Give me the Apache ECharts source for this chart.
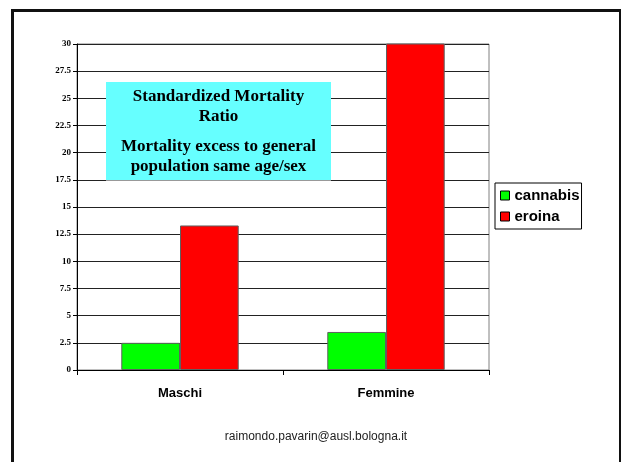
<!DOCTYPE html>
<html>
<head>
<meta charset="utf-8">
<script src="https://cdn.jsdelivr.net/npm/echarts@6/dist/echarts.min.js"></script>
<style>html,body{margin:0;padding:0;background:#fff}#c{width:621px;height:462px}</style>
</head>
<body>
<div id="c"></div>
<script>
var categories = ['Maschi', 'Femmine'];
var cannabis = [2.5, 3.5];
var eroina = [13.3, 30.1];
var seriesNames = ['cannabis', 'eroina'];

var chart = echarts.init(document.getElementById('c'), null, {renderer: 'canvas'});
var serif = 'bold 17px "Liberation Serif", "Times New Roman"';
chart.setOption({
  animation: false,
  backgroundColor: '#fff',
  grid: {left: 77, right: 132, top: 44, bottom: 92, show: true, borderColor: '#808080', borderWidth: 1, backgroundColor: 'transparent'},
  legend: {
    orient: 'vertical', left: 495, top: 183,
    data: seriesNames,
    icon: 'rect', itemWidth: 9, itemHeight: 9, itemGap: 6,
    borderColor: '#000', borderWidth: 1, padding: [5, 2, 5, 5],
    itemStyle: {borderColor: '#000', borderWidth: 1},
    textStyle: {fontFamily: 'Liberation Sans, Arial', fontWeight: 'bold', fontSize: 15, color: '#000'}
  },
  xAxis: {
    type: 'category', data: categories,
    axisLine: {lineStyle: {color: '#000', width: 1}},
    axisTick: {show: true, length: 5, lineStyle: {color: '#000'}},
    axisLabel: {fontFamily: 'Liberation Sans, Arial', fontWeight: 'bold', fontSize: 13, color: '#000', margin: 17}
  },
  yAxis: {
    type: 'value', min: 0, max: 30, interval: 2.5,
    axisLine: {show: true, lineStyle: {color: '#000', width: 1}},
    axisTick: {show: true, length: 4, lineStyle: {color: '#000'}},
    axisLabel: {fontFamily: 'Liberation Serif, Times New Roman', fontWeight: 'bold', fontSize: 9, color: '#000', margin: 6},
    splitLine: {show: true, lineStyle: {color: '#222', width: 1}}
  },
  series: [
    {name: seriesNames[0], type: 'bar', data: cannabis, barGap: '0%', barCategoryGap: '43%',
     itemStyle: {color: '#00FF00', borderColor: '#606060', borderWidth: 1}},
    {name: seriesNames[1], type: 'bar', data: eroina,
     itemStyle: {color: '#FF0000', borderColor: '#606060', borderWidth: 1}}
  ],
  graphic: [
    {type: 'rect', left: 10, top: 8, shape: {width: 608, height: 460}, style: {fill: 'none', stroke: '#111', lineWidth: 3}, z: 100},
    {type: 'rect', left: 106, top: 82, shape: {width: 225, height: 98}, style: {fill: '#66FFFF', stroke: null}, z: 50},
    {type: 'line', shape: {x1: 106, y1: 180.5, x2: 331, y2: 180.5}, style: {stroke: '#999', lineWidth: 1}, z: 51},
    {type: 'text', style: {text: 'Standardized Mortality', font: serif, fill: '#000', align: 'center', verticalAlign: 'middle', x: 218.5, y: 97}, z: 52},
    {type: 'text', style: {text: 'Ratio', font: serif, fill: '#000', align: 'center', verticalAlign: 'middle', x: 218.5, y: 117}, z: 52},
    {type: 'text', style: {text: 'Mortality excess to general', font: serif, fill: '#000', align: 'center', verticalAlign: 'middle', x: 218.5, y: 147}, z: 52},
    {type: 'text', style: {text: 'population same age/sex', font: serif, fill: '#000', align: 'center', verticalAlign: 'middle', x: 218.5, y: 167}, z: 52},
    {type: 'text', style: {text: 'raimondo.pavarin@ausl.bologna.it', font: '12px "Liberation Sans", Arial', fill: '#222', align: 'center', verticalAlign: 'middle', x: 316, y: 437}, z: 52}
  ]
});
</script>
</body>
</html>
